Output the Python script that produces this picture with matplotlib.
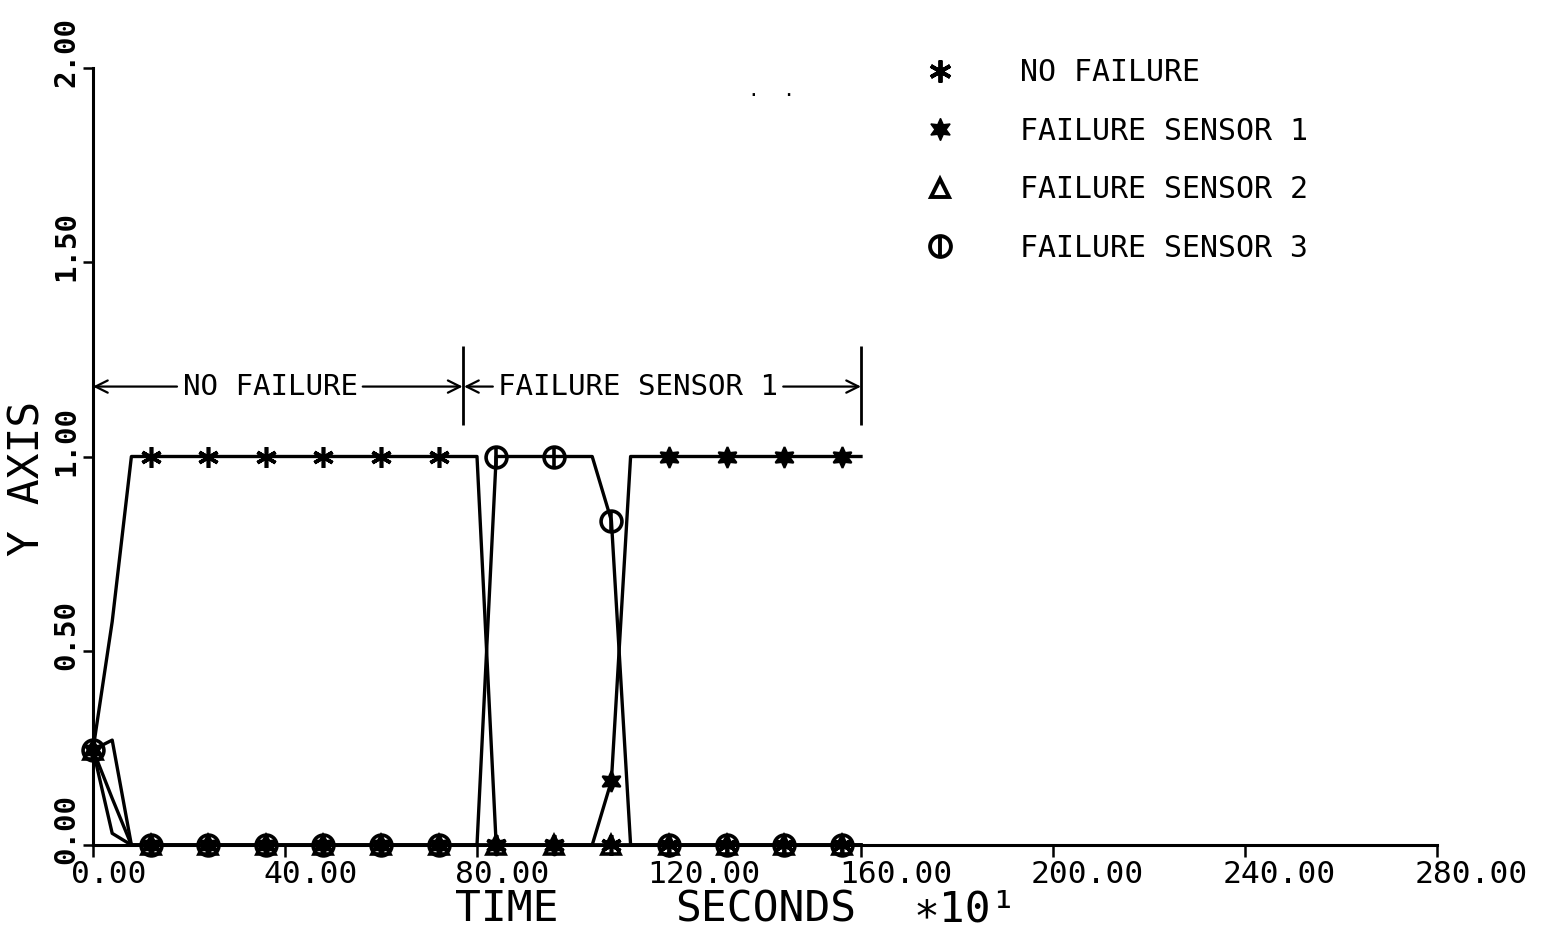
import matplotlib
matplotlib.use('Agg')
import matplotlib.pyplot as plt
from matplotlib.lines import Line2D
from matplotlib.transforms import ScaledTranslation

plt.rcParams['font.family'] = ['DejaVu Sans Mono', 'DejaVu Sans']

# ---------------- data ----------------
time = [0, 4, 8, 12, 16, 20, 24, 28, 32, 36, 40, 44, 48, 52, 56, 60, 64, 68, 72, 76,
        80, 84, 88, 92, 96, 100, 104, 108, 112, 116, 120, 124, 128, 132, 136, 140,
        144, 148, 152, 156, 160]

no_failure = [0.245, 0.575, 1.0, 1.0, 1.0, 1.0, 1.0, 1.0, 1.0, 1.0, 1.0, 1.0, 1.0, 1.0,
              1.0, 1.0, 1.0, 1.0, 1.0, 1.0, 1.0, 0.0, 0.0, 0.0, 0.0, 0.0, 0.0, 0.0,
              0.0, 0.0, 0.0, 0.0, 0.0, 0.0, 0.0, 0.0, 0.0, 0.0, 0.0, 0.0, 0.0]
sensor1 = [0.245, 0.27, 0.0, 0.0, 0.0, 0.0, 0.0, 0.0, 0.0, 0.0, 0.0, 0.0, 0.0, 0.0,
           0.0, 0.0, 0.0, 0.0, 0.0, 0.0, 0.0, 0.0, 0.0, 0.0, 0.0, 0.0, 0.0, 0.165,
           1.0, 1.0, 1.0, 1.0, 1.0, 1.0, 1.0, 1.0, 1.0, 1.0, 1.0, 1.0, 1.0]
sensor2 = [0.245, 0.12, 0.0, 0.0, 0.0, 0.0, 0.0, 0.0, 0.0, 0.0, 0.0, 0.0, 0.0, 0.0,
           0.0, 0.0, 0.0, 0.0, 0.0, 0.0, 0.0, 0.0, 0.0, 0.0, 0.0, 0.0, 0.0, 0.0,
           0.0, 0.0, 0.0, 0.0, 0.0, 0.0, 0.0, 0.0, 0.0, 0.0, 0.0, 0.0, 0.0]
sensor3 = [0.245, 0.03, 0.0, 0.0, 0.0, 0.0, 0.0, 0.0, 0.0, 0.0, 0.0, 0.0, 0.0, 0.0,
           0.0, 0.0, 0.0, 0.0, 0.0, 0.0, 0.0, 1.0, 1.0, 1.0, 1.0, 1.0, 1.0, 0.835,
           0.0, 0.0, 0.0, 0.0, 0.0, 0.0, 0.0, 0.0, 0.0, 0.0, 0.0, 0.0, 0.0]

series_labels = ['NO FAILURE', 'FAILURE SENSOR 1', 'FAILURE SENSOR 2', 'FAILURE SENSOR 3']

xtick_values = [0, 40, 80, 120, 160, 200, 240, 280]
xtick_labels = ['0.00', '40.00', '80.00', '120.00', '160.00', '200.00', '240.00', '280.00']
ytick_values = [0.0, 0.5, 1.0, 1.5, 2.0]
ytick_labels = ['0.00', '0.50', '1.00', '1.50', '2.00']

# phase brackets
phase_start = 0
failure_onset = 77
phase_end = 160
bracket_y = 1.18
bracket_low, bracket_high = 1.08, 1.285

# ---------------- figure ----------------
W, H = 1562, 935
fig = plt.figure(figsize=(W / 100, H / 100), dpi=100)
ax = fig.add_axes([93 / W, 90 / H, 1344 / W, 777 / H])
ax.set_xlim(0, 280)
ax.set_ylim(0, 2)

for s in ['top', 'right']:
    ax.spines[s].set_visible(False)
for s in ['left', 'bottom']:
    ax.spines[s].set_linewidth(2.2)

LW = 2.4
common = dict(color='black', lw=LW, markevery=3, clip_on=False)
ax.plot(time, no_failure, marker=(6, 2, 0), ms=15, mew=2.6, mec='black', zorder=3, **common)
ax.plot(time, sensor1, marker=(6, 1, 0), ms=15, mfc='black', mec='black', mew=1.5, zorder=4, **common)
ax.plot(time, sensor2, marker='^', ms=13, mfc='none', mec='black', mew=2.6, zorder=5, **common)
ax.plot(time, sensor3, marker='o', ms=15, mfc='none', mec='black', mew=2.6, zorder=6, **common)
ax.plot(time, sensor3, ls='none', marker='|', ms=15, mew=2.6, color='black',
        markevery=3, clip_on=False, zorder=7)

# ticks
ax.set_xticks(xtick_values, xtick_labels)
ax.tick_params(axis='x', direction='out', length=8.5, width=1.8, labelsize=22.5, pad=2)
for lab in ax.get_xticklabels():
    lab.set_ha('left')
    lab.set_transform(lab.get_transform() + ScaledTranslation(-0.22, 0, fig.dpi_scale_trans))

ax.set_yticks(ytick_values, ytick_labels)
ax.tick_params(axis='y', direction='out', length=7, width=1.8, labelsize=21, pad=12)
for lab in ax.get_yticklabels():
    lab.set_rotation(90)
    lab.set_rotation_mode('anchor')
    lab.set_ha('left')
    lab.set_va('center')
    lab.set_fontweight('bold')
    lab.set_transform(lab.get_transform() + ScaledTranslation(0, -0.19, fig.dpi_scale_trans))

# axis labels
ax.set_ylabel('Y AXIS', fontsize=31)
ax.yaxis.label.set_va('center')
ax.yaxis.set_label_coords(-0.049, 0.472)
fig.text(507 / W, 1 - 909 / H, 'TIME', fontsize=31, ha='center', va='center')
fig.text(766 / W, 1 - 909 / H, 'SECONDS', fontsize=31, ha='center', va='center')
fig.text(965 / W, 1 - 909 / H, '\u221710\u00b9', fontsize=31, ha='center', va='center')

# phase brackets
arrow_kw = dict(arrowstyle='->', lw=1.6, color='black', mutation_scale=22, shrinkA=0, shrinkB=0)
ax.vlines([failure_onset, phase_end], bracket_low, bracket_high, color='black', lw=2.0)
ax.annotate('', xy=(phase_start, bracket_y), xytext=(17.5, bracket_y), arrowprops=arrow_kw)
ax.annotate('', xy=(failure_onset, bracket_y), xytext=(56.2, bracket_y), arrowprops=arrow_kw)
ax.text(36.9, bracket_y, 'NO FAILURE', fontsize=21, ha='center', va='center')
ax.annotate('', xy=(failure_onset + 0.3, bracket_y), xytext=(83.3, bracket_y), arrowprops=arrow_kw)
ax.annotate('', xy=(phase_end, bracket_y), xytext=(143.8, bracket_y), arrowprops=arrow_kw)
ax.text(113.5, bracket_y, 'FAILURE SENSOR 1', fontsize=21, ha='center', va='center')

# stray dots
fig.text(772 / W, 1 - 90 / H, '.  .', fontsize=14, ha='center', va='center')

# legend
handles = [
    Line2D([], [], ls='none', marker=(6, 2, 0), ms=16, mew=2.8, color='black'),
    Line2D([], [], ls='none', marker=(6, 1, 0), ms=16, mfc='black', mec='black'),
    Line2D([], [], ls='none', marker='^', ms=13, mfc='white', mec='black', mew=2.8),
    (Line2D([], [], ls='none', marker='o', ms=15, mfc='white', mec='black', mew=2.8),
     Line2D([], [], ls='none', marker='|', ms=15, mew=2.8, color='black')),
]
ax.legend(handles, series_labels, loc='upper left', bbox_to_anchor=(910 / W, 1 - 58 / H),
          bbox_transform=fig.transFigure, frameon=False, fontsize=21.5, handlelength=2,
          handletextpad=1.69, labelspacing=0.99, borderpad=0, borderaxespad=0)

fig.savefig('out.png', dpi=100)
